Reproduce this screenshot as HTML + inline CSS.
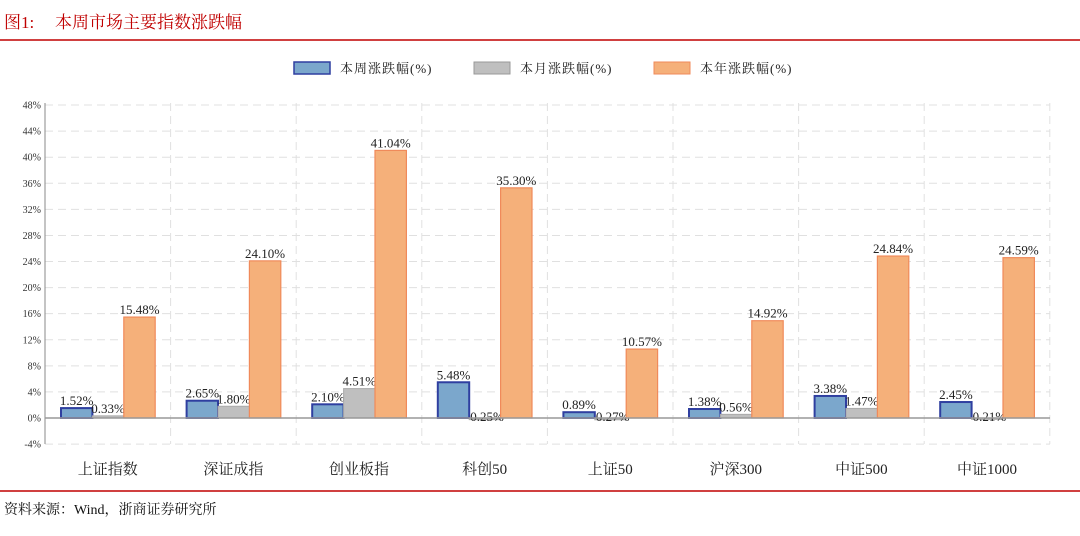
<!DOCTYPE html>
<html><head><meta charset="utf-8"><style>
body{margin:0;background:#fff;width:1080px;height:536px;overflow:hidden}
svg{display:block}
</style></head><body>
<svg width="1080" height="536" xmlns="http://www.w3.org/2000/svg" font-family="'Liberation Serif','Noto Serif CJK SC',serif">
<text y="28" fill="#c00000" font-size="17"><tspan x="4">图1:</tspan><tspan x="55">本周市场主要指数涨跌幅</tspan></text>
<line x1="0" y1="40" x2="1080" y2="40" stroke="#c00000" stroke-width="1.5"/>
<g font-size="13" fill="#222">
<rect x="294" y="62" width="36" height="12" fill="#7ba7cc" stroke="#2f3fa0" stroke-width="1.5"/><text x="340" y="73" letter-spacing="1">本周涨跌幅(%)</text>
<rect x="474" y="62" width="36" height="12" fill="#bfbfbf" stroke="#999" stroke-width="1"/><text x="520" y="73" letter-spacing="1">本月涨跌幅(%)</text>
<rect x="654" y="62" width="36" height="12" fill="#f5b07a" stroke="#f08a5a" stroke-width="1"/><text x="700" y="73" letter-spacing="1">本年涨跌幅(%)</text>
</g>
<g id="grid" stroke="#e0e0e0" stroke-dasharray="8,5" stroke-width="1"></g>
<g id="bars"></g>
<line x1="45" y1="103" x2="45" y2="444" stroke="#888"/>
<line x1="45" y1="418" x2="1050" y2="418" stroke="#999" stroke-width="1.5"/>
<g id="yl" font-size="10" fill="#333" text-anchor="end"></g>
<g id="xl" font-size="15" fill="#222" text-anchor="middle"></g>
<line x1="0" y1="491" x2="1080" y2="491" stroke="#c00000" stroke-width="1.5"/>
<text x="4" y="514" font-size="14" fill="#111">资料来源：Wind，浙商证券研究所</text>
</svg>
<script>
const NS="http://www.w3.org/2000/svg";
function el(p,t,a,txt){const e=document.createElementNS(NS,t);for(const k in a)e.setAttribute(k,a[k]);if(txt)e.textContent=txt;document.getElementById(p).appendChild(e);}
const y0=418,u=26.08/4;
for(let v=-4;v<=48;v+=4){const y=y0-v*u;if(v!==0)el("grid","line",{x1:45,x2:1050,y1:y,y2:y});el("yl","text",{x:41,y:y+3.5},v+"%");}
for(let i=1;i<=8;i++){const x=45+i*125.6;el("grid","line",{x1:x,x2:x,y1:103,y2:444});}
const names=["上证指数","深证成指","创业板指","科创50","上证50","沪深300","中证500","中证1000"];
const d=[[1.52,0.33,15.48],[2.65,1.80,24.10],[2.10,4.51,41.04],[5.48,-0.25,35.30],[0.89,-0.27,10.57],[1.38,0.56,14.92],[3.38,1.47,24.84],[2.45,-0.21,24.59]];
const fills=["#7ba7cc","#bfbfbf","#f5b07a"],strokes=["#2f3fa0","#aaa","#f08a5a"],sw=[2,1,1.2];
d.forEach((g,i)=>{const gx=45+i*125.6+16;
 el("xl","text",{x:45+i*125.6+62.8,y:474},names[i]);
 g.forEach((v,j)=>{const x=gx+j*31.4;const top=Math.min(y0,y0-v*u),h=Math.abs(v*u);
  el("bars","rect",{x:x,y:top,width:31.4,height:Math.max(h,0.5),fill:fills[j],stroke:strokes[j],"stroke-width":sw[j]});
  const ly=v>=0?y0-v*u-3:y0+3;
  el("bars","text",{x:x+15.7,y:ly,"font-size":13,"text-anchor":"middle",fill:"#222"},v.toFixed(2)+"%");
 });});
</script>
</body></html>
